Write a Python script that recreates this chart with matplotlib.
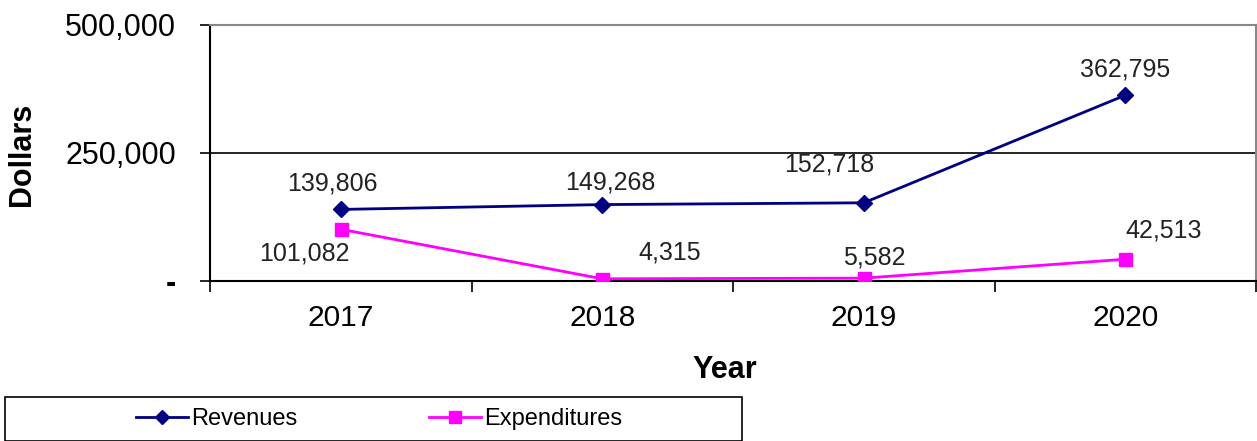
import matplotlib
matplotlib.use("Agg")
import matplotlib.pyplot as plt
from matplotlib.patches import Rectangle

plt.rcParams['font.family'] = ['Liberation Sans', 'DejaVu Sans']

years = ["2017", "2018", "2019", "2020"]
revenues = [139806, 149268, 152718, 362795]
expenditures = [101082, 4315, 5582, 42513]
y_ticks = [0, 250000, 500000]
y_tick_labels = ["-", "250,000", "500,000"]

W, H, DPI = 1257, 441, 100
PX = 72.0 / DPI  # points per pixel

fig = plt.figure(figsize=(W / DPI, H / DPI), dpi=DPI)
ax = fig.add_axes([210 / W, (H - 281) / H, (1256 - 210) / W, (281 - 25) / H])

x = list(range(len(years)))
rev_line, = ax.plot(x, revenues, color="#000080", lw=2.8 * PX,
                    marker="D", ms=11 * PX, mec="#000080", mfc="#000080",
                    label="Revenues", zorder=4)
exp_line, = ax.plot(x, expenditures, color="#FF00FF", lw=2.8 * PX,
                    marker="s", ms=13 * PX, mec="#FF00FF", mfc="#FF00FF",
                    label="Expenditures", zorder=3)

# value labels, offsets in pixels from each marker
rev_offsets = [(-8, 26), (8, 22), (-34, 38), (0, 26)]
exp_offsets = [(-36, -24), (67, 26), (11, 21), (38, 29)]
for xi, v, off in zip(x, revenues, rev_offsets):
    ax.annotate(f"{v:,}", (xi, v), xytext=off, textcoords="offset pixels",
                ha="center", va="center", fontsize=18, color="#222222")
for xi, v, off in zip(x, expenditures, exp_offsets):
    ax.annotate(f"{v:,}", (xi, v), xytext=off, textcoords="offset pixels",
                ha="center", va="center", fontsize=18, color="#222222")

ax.set_xlim(-0.5, len(years) - 0.5)
ax.set_ylim(0, 500000)

ax.set_yticks(y_ticks)
ax.set_yticklabels(y_tick_labels)
ax.tick_params(axis="y", length=7, width=1.2, pad=24 * PX, labelsize=22,
               direction="out", colors="black")
ax.get_yticklabels()[0].set_fontweight("bold")

ax.set_xticks(x)
ax.set_xticklabels(years)
ax.tick_params(axis="x", which="major", length=0, pad=23 * PX, labelsize=21.5)
ax.set_xticks([i - 0.5 for i in range(len(years) + 1)], minor=True)
ax.tick_params(axis="x", which="minor", length=8, width=1.2, direction="out")

ax.axhline(250000, color="black", lw=1.2, zorder=1)

for side in ("left", "bottom"):
    ax.spines[side].set_color("black")
    ax.spines[side].set_linewidth(1.5)
for side in ("top", "right"):
    ax.spines[side].set_color("#888888")
    ax.spines[side].set_linewidth(1.5)

fig.text(22 / W, 1 - 154 / H, "Dollars", rotation=90, ha="center", va="center",
         fontsize=22, fontweight="bold")
fig.text(725 / W, 1 - 370 / H, "Year", ha="center", va="center",
         fontsize=22, fontweight="bold")

# legend frame
fig.patches.append(Rectangle((5 / W, 0), (742 - 5) / W, (H - 397) / H,
                             transform=fig.transFigure, fill=False,
                             edgecolor="black", lw=1.2))
fig.legend(handles=[rev_line, exp_line], loc="center",
           bbox_to_anchor=(379 / W, 1 - 419 / H), ncol=2, frameon=False,
           fontsize=17, handlelength=2.2, handletextpad=0.12,
           columnspacing=5.6, borderpad=0, markerscale=0.85)

fig.savefig("out.png", dpi=DPI)
